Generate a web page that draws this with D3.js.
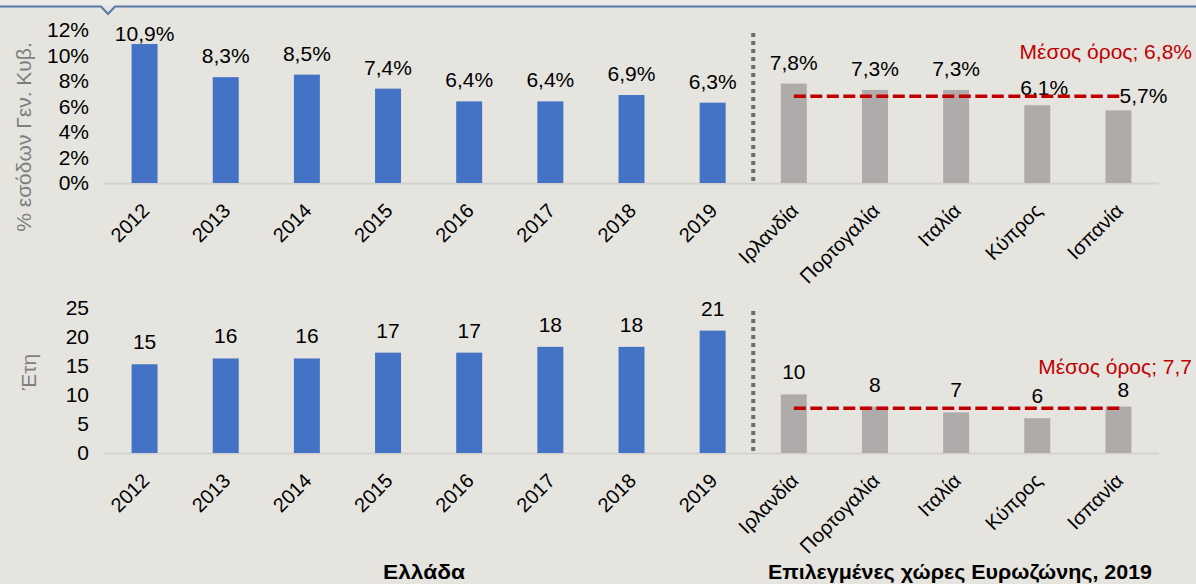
<!DOCTYPE html>
<html><head><meta charset="utf-8">
<script src="https://cdn.jsdelivr.net/npm/d3@7/dist/d3.min.js"></script>
<style>
html,body{margin:0;padding:0;background:#e5e4df;}
svg{display:block;font-family:"Liberation Sans",Arial,sans-serif;}
</style></head>
<body>
<svg id="c" width="1196" height="584"></svg>
<script>
// ---- data ----
const years = ["2012","2013","2014","2015","2016","2017","2018","2019"];
const countries = ["Ιρλανδία","Πορτογαλία","Ιταλία","Κύπρος","Ισπανία"];
const revenueGreece = [10.9, 8.3, 8.5, 7.4, 6.4, 6.4, 6.9, 6.3];
const revenueEuro = [7.8, 7.3, 7.3, 6.1, 5.7];
const revenueMean = 6.8;
const revenueTicks = [0, 2, 4, 6, 8, 10, 12];
const yearsGreece = [15.3, 16.3, 16.3, 17.3, 17.3, 18.3, 18.3, 21.1];
const yearsEuro = [10.1, 8.0, 7.0, 6.0, 8.0];
const yearsMean = 7.7;
const yearsTicks = [0, 5, 10, 15, 20, 25];
const titleRevenue = "% εσόδων Γεν. Κυβ.";
const titleYears = "Έτη";
const meanRevenueLabel = "Μέσος όρος; 6,8%";
const meanYearsLabel = "Μέσος όρος; 7,7";
const groupGreece = "Ελλάδα";
const groupEuro = "Επιλεγμένες χώρες Ευρωζώνης, 2019";

// ---- layout / style ----
const svg = d3.select("#c");
const BLUE = "#4472c4", GRAY = "#afabab", RED = "#c00000";
const FS = 20, FSV = 21;
// label nudges (layout only) to avoid overlap with mean line
const nudgeTop = {"Κύπρος": [7, 4], "Ισπανία": [25, 7]};
const nudgeBot = {"Ισπανία": [5, 5]};

// top frame line with notch
svg.append("rect").attr("x",0).attr("y",0).attr("width",1196).attr("height",6).attr("fill","#ebebe8");
svg.append("path")
  .attr("d","M0,6.5 L101,6.5 L108,14 L115,6.5 L1196,6.5")
  .attr("fill","none").attr("stroke","#5878a6").attr("stroke-width",2);

const cats = years.concat(countries);
const x = d3.scaleBand().domain(cats).range([104, 1159]).paddingInner(0.68).paddingOuter(0.34);

function panel(opts) {
  const {y0, y1, domain, ticks, tickFmt, gVals, eVals, mean, meanLabel, meanLabelY, labelFmt, gap, clampTop, nudge, title, titleX, titleY} = opts;
  const y = d3.scaleLinear().domain(domain).range([y0, y1]);
  const g = svg.append("g");

  // baseline
  g.append("line").attr("x1",104).attr("x2",1159).attr("y1",y(0)+0.5).attr("y2",y(0)+0.5)
    .attr("stroke","#d3d2ce").attr("stroke-width",2);

  // y axis (tick labels only)
  const ax = g.append("g").attr("transform","translate(89,0)")
    .call(d3.axisLeft(y).tickValues(ticks).tickFormat(tickFmt).tickSize(0).tickPadding(0));
  ax.select(".domain").remove();
  ax.selectAll("text").attr("font-size",FSV).attr("font-family","Liberation Sans, Arial, sans-serif").attr("fill","#000");

  // y title
  g.append("text").attr("transform",`translate(${titleX},${titleY}) rotate(-90)`)
    .attr("text-anchor","middle").attr("dy","0.35em").attr("font-size",21).attr("fill","#7f7f7f").text(title);

  const data = years.map((c,i)=>({c, v:gVals[i], col:BLUE}))
    .concat(countries.map((c,i)=>({c, v:eVals[i], col:GRAY})));

  g.selectAll(".bar").data(data).join("rect")
    .attr("x", d=>x(d.c)).attr("width", x.bandwidth())
    .attr("y", d=>y(d.v)).attr("height", d=>y(0)-y(d.v))
    .attr("fill", d=>d.col);

  g.selectAll(".vl").data(data).join("text")
    .attr("x", d=>x(d.c)+x.bandwidth()/2 + (nudge[d.c]?nudge[d.c][0]:0))
    .attr("y", d=>Math.max(y(d.v)-gap, clampTop) + (nudge[d.c]?nudge[d.c][1]:0))
    .attr("text-anchor","middle").attr("font-size",FSV).attr("fill","#000")
    .text(d=>labelFmt(d.v));

  // separator
  const sepX = (x(years[years.length-1]) + x.bandwidth() + x(countries[0]))/2;
  g.append("line").attr("x1",sepX).attr("x2",sepX).attr("y1",y1+3).attr("y2",y(0))
    .attr("stroke","#6b6b6b").attr("stroke-width",4).attr("stroke-dasharray","4,4");

  // mean line
  const mx0 = x(countries[0]) + x.bandwidth()/2;
  const mx1 = x(countries[countries.length-1]) + x.bandwidth()/2 + 3;
  g.append("line").attr("x1",mx0).attr("x2",mx1).attr("y1",y(mean)).attr("y2",y(mean))
    .attr("stroke",RED).attr("stroke-width",3.5).attr("stroke-dasharray","12,4.5");
  g.append("text").attr("x",1192).attr("y",meanLabelY).attr("text-anchor","end")
    .attr("font-size",21).attr("fill",RED).text(meanLabel);

  // x labels
  g.selectAll(".xl").data(cats).join("text")
    .attr("transform", c=>`translate(${x(c)+x.bandwidth()/2+1},${y(0)+24}) rotate(-45)`)
    .attr("text-anchor","end").attr("dy","0.35em").attr("font-size",FS).attr("fill","#000")
    .text(c=>c);
}

panel({y0:183, y1:30, domain:[0,12], ticks:revenueTicks, tickFmt:d=>d+"%",
  gVals:revenueGreece, eVals:revenueEuro, mean:revenueMean, meanLabel:meanRevenueLabel, meanLabelY:59,
  labelFmt:d=>d3.format(".1f")(d).replace(".",",")+"%", gap:14, clampTop:41, nudge:nudgeTop,
  title:titleRevenue, titleX:24, titleY:137});

panel({y0:453, y1:308, domain:[0,25], ticks:yearsTicks, tickFmt:d=>d,
  gVals:yearsGreece, eVals:yearsEuro, mean:yearsMean, meanLabel:meanYearsLabel, meanLabelY:374,
  labelFmt:d=>d3.format(".0f")(d), gap:15, clampTop:0, nudge:nudgeBot,
  title:titleYears, titleX:29, titleY:372});

// group footers
svg.append("text").attr("x",424).attr("y",579).attr("text-anchor","middle")
  .attr("font-family","Liberation Sans Narrow, Arial Narrow, Liberation Sans, sans-serif")
  .attr("font-weight","bold").attr("font-size",20).attr("textLength",82).attr("lengthAdjust","spacingAndGlyphs")
  .text(groupGreece);
svg.append("text").attr("x",960).attr("y",579).attr("text-anchor","middle")
  .attr("font-family","Liberation Sans Narrow, Arial Narrow, Liberation Sans, sans-serif")
  .attr("font-weight","bold").attr("font-size",20).attr("textLength",384).attr("lengthAdjust","spacingAndGlyphs")
  .text(groupEuro);
</script>
</body></html>
